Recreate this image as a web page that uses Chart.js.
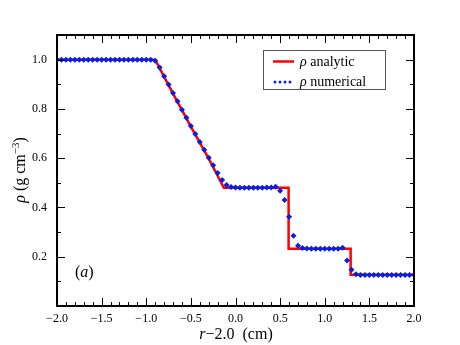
<!DOCTYPE html>
<html>
<head>
<meta charset="utf-8">
<script src="https://cdn.jsdelivr.net/npm/chart.js@4"></script>
<style>
  html, body { margin: 0; padding: 0; background: #fff; }
  #wrap { width: 460px; height: 345px; }
</style>
</head>
<body>
<div id="wrap"><canvas id="chartRho" width="460" height="345"></canvas></div>
<script>
// analytic solution (red line)
const xAnalytic = [-2.0, -0.9, -0.7, -0.5, -0.3, -0.13, 0.595, 0.595, 1.29, 1.29, 2.0];
const yAnalytic = [1.0, 1.0, 0.862, 0.728, 0.598, 0.480, 0.480, 0.232, 0.232, 0.127, 0.127];

// numerical solution (blue markers)
const xNumerical = [
  -2.00, -1.95, -1.90, -1.85, -1.80, -1.75, -1.70, -1.65, -1.60, -1.55,
  -1.50, -1.45, -1.40, -1.35, -1.30, -1.25, -1.20, -1.15, -1.10, -1.05,
  -1.00, -0.95, -0.90, -0.85, -0.80, -0.75, -0.70, -0.65, -0.60, -0.55,
  -0.50, -0.45, -0.40, -0.35, -0.30, -0.25, -0.20, -0.15, -0.10, -0.05,
   0.00,  0.05,  0.10,  0.15,  0.20,  0.25,  0.30,  0.35,  0.40,  0.45,
   0.50,  0.55,  0.60,  0.65,  0.70,  0.75,  0.80,  0.85,  0.90,  0.95,
   1.00,  1.05,  1.10,  1.15,  1.20,  1.25,  1.30,  1.35,  1.40,  1.45,
   1.50,  1.55,  1.60,  1.65,  1.70,  1.75,  1.80,  1.85,  1.90,  1.95,
   2.00
];
const yNumerical = [
  1.000, 1.000, 1.000, 1.000, 1.000, 1.000, 1.000, 1.000, 1.000, 1.000,
  1.000, 1.000, 1.000, 1.000, 1.000, 1.000, 1.000, 1.000, 1.000, 1.000,
  1.000, 1.000, 0.995, 0.968, 0.933, 0.899, 0.865, 0.831, 0.797, 0.764,
  0.731, 0.698, 0.666, 0.634, 0.602, 0.571, 0.540, 0.511, 0.491, 0.483,
  0.481, 0.480, 0.480, 0.480, 0.480, 0.480, 0.480, 0.481, 0.481, 0.484,
  0.468, 0.430, 0.362, 0.285, 0.245, 0.235, 0.233, 0.232, 0.232, 0.232,
  0.232, 0.232, 0.232, 0.232, 0.236, 0.185, 0.147, 0.129, 0.126, 0.126,
  0.126, 0.126, 0.126, 0.126, 0.126, 0.126, 0.126, 0.126, 0.126, 0.126,
  0.126
];

const xTicks = [-2.0, -1.5, -1.0, -0.5, 0.0, 0.5, 1.0, 1.5, 2.0];
const yTicks = [0.2, 0.4, 0.6, 0.8, 1.0];

const SERIF = "'Liberation Serif', 'DejaVu Serif', serif";
const BLUE = '#0a1ee0';

function fmt(v) {
  return v.toFixed(1).replace('-', '\u2212');
}

function drawRuns(ctx, runs, x, y, align) {
  let total = 0;
  runs.forEach(r => {
    ctx.font = r.font;
    r.w = ctx.measureText(r.t).width;
    total += r.w;
  });
  let cx = align === 'center' ? x - total / 2 : x;
  ctx.textAlign = 'left';
  ctx.textBaseline = 'alphabetic';
  runs.forEach(r => {
    ctx.font = r.font;
    ctx.fillText(r.t, cx, y + (r.dy || 0));
    cx += r.w;
  });
}

// frame + inward ticks on all four sides
const frameTicks = {
  id: 'frameTicks',
  afterDatasetsDraw(chart) {
    const { ctx, chartArea: a, scales: { x, y } } = chart;
    ctx.save();
    ctx.strokeStyle = '#000';
    ctx.lineWidth = 1;
    ctx.beginPath();
    for (let i = 1; i < 40; i++) {
      const px = Math.round(x.getPixelForValue(-2 + i * 0.1)) + 0.5;
      const len = i % 5 === 0 ? 8 : 4;
      ctx.moveTo(px, a.bottom); ctx.lineTo(px, a.bottom - len);
      ctx.moveTo(px, a.top); ctx.lineTo(px, a.top + len);
    }
    for (let i = 1; i <= 10; i++) {
      const py = Math.round(y.getPixelForValue(i * 0.1)) + 0.5;
      const len = i % 2 === 0 ? 8 : 4;
      ctx.moveTo(a.left, py); ctx.lineTo(a.left + len, py);
      ctx.moveTo(a.right, py); ctx.lineTo(a.right - len, py);
    }
    ctx.stroke();
    ctx.lineWidth = 2;
    ctx.strokeRect(a.left, a.top, a.right - a.left, a.bottom - a.top);
    ctx.restore();
  }
};

// axis titles, panel label and legend box
const annotations = {
  id: 'annotations',
  afterDraw(chart) {
    const { ctx } = chart;
    ctx.save();
    ctx.fillStyle = '#000';

    // x title
    drawRuns(ctx, [
      { t: 'r', font: 'italic 16px ' + SERIF },
      { t: '\u22122.0  (cm)', font: '16px ' + SERIF }
    ], 236, 339, 'center');

    // y title
    ctx.save();
    ctx.translate(25, 170);
    ctx.rotate(-Math.PI / 2);
    drawRuns(ctx, [
      { t: '\u03c1', font: 'italic 16px ' + SERIF },
      { t: ' (g cm', font: '16px ' + SERIF },
      { t: '\u22123', font: '11px ' + SERIF, dy: -6 },
      { t: ')', font: '16px ' + SERIF }
    ], 0, 0, 'center');
    ctx.restore();

    // panel label
    drawRuns(ctx, [
      { t: '(', font: '16px ' + SERIF },
      { t: 'a', font: 'italic 16px ' + SERIF },
      { t: ')', font: '16px ' + SERIF }
    ], 75, 277, 'left');

    // legend
    ctx.fillStyle = '#fff';
    ctx.fillRect(263.5, 50.5, 122, 39);
    ctx.strokeStyle = '#555';
    ctx.lineWidth = 1;
    ctx.strokeRect(263.5, 50.5, 122, 39);

    ctx.strokeStyle = '#ff0000';
    ctx.lineWidth = 2.5;
    ctx.beginPath();
    ctx.moveTo(273, 61.5); ctx.lineTo(294, 61.5);
    ctx.stroke();

    ctx.fillStyle = BLUE;
    for (let i = 0; i < 4; i++) {
      ctx.beginPath();
      ctx.arc(275 + i * 5, 82, 1.5, 0, Math.PI * 2);
      ctx.fill();
    }

    ctx.fillStyle = '#000';
    drawRuns(ctx, [
      { t: '\u03c1', font: 'italic 14px ' + SERIF },
      { t: ' analytic', font: '14px ' + SERIF }
    ], 300, 66, 'left');
    drawRuns(ctx, [
      { t: '\u03c1', font: 'italic 14px ' + SERIF },
      { t: ' numerical', font: '14px ' + SERIF }
    ], 300, 86, 'left');
    ctx.restore();
  }
};

const ctx = document.getElementById('chartRho').getContext('2d');

new Chart(ctx, {
  type: 'scatter',
  data: {
    datasets: [
      {
        label: '\u03c1 numerical',
        data: xNumerical.map((x, i) => ({ x, y: yNumerical[i] })),
        showLine: false,
        pointStyle: 'rectRot',
        pointRadius: 3,
        pointBorderWidth: 0,
        backgroundColor: BLUE,
        borderColor: BLUE,
        order: 0
      },
      {
        label: '\u03c1 analytic',
        data: xAnalytic.map((x, i) => ({ x, y: yAnalytic[i] })),
        showLine: true,
        borderColor: '#ff0000',
        borderWidth: 2.5,
        pointRadius: 0,
        tension: 0,
        order: 1
      }
    ]
  },
  options: {
    responsive: false,
    animation: false,
    events: [],
    layout: { padding: { left: 0, right: 46, top: 35, bottom: 0 } },
    plugins: {
      legend: { display: false },
      tooltip: { enabled: false }
    },
    scales: {
      x: {
        type: 'linear',
        min: -2,
        max: 2,
        grid: { display: false, drawTicks: false },
        border: { display: false },
        afterBuildTicks: s => { s.ticks = xTicks.map(v => ({ value: v })); },
        afterFit: s => { s.height = 39; },
        ticks: {
          padding: 6,
          maxRotation: 0,
          autoSkip: false,
          color: '#000',
          font: { family: SERIF, size: 12 },
          callback: v => fmt(v)
        }
      },
      y: {
        type: 'linear',
        min: 0,
        max: 1.1,
        grid: { display: false, drawTicks: false },
        border: { display: false },
        afterBuildTicks: s => { s.ticks = yTicks.map(v => ({ value: v })); },
        afterFit: s => { s.width = 57; },
        ticks: {
          padding: 10,
          autoSkip: false,
          color: '#000',
          font: { family: SERIF, size: 12 },
          callback: v => fmt(v)
        }
      }
    }
  },
  plugins: [frameTicks, annotations]
});
</script>
</body>
</html>
